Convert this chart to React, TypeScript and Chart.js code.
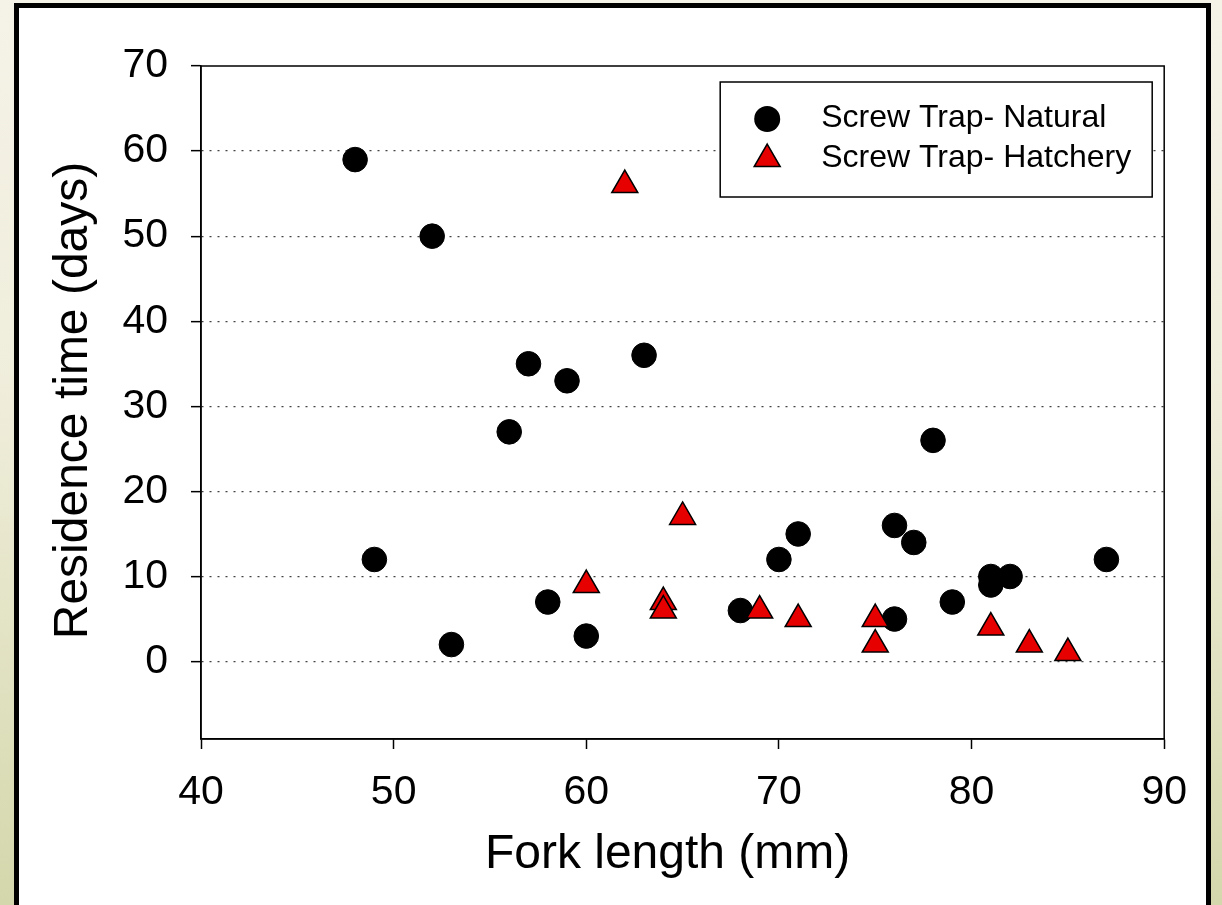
import React, { useEffect, useRef } from 'react';
import { Chart, registerables } from 'chart.js';

Chart.register(...registerables);

const FONT = "Arial, 'Liberation Sans', Helvetica, sans-serif";

// Screw Trap- Natural
const naturalLength = [48, 49, 52, 53, 56, 57, 58, 59, 60, 63, 68, 70, 71, 76, 76, 77, 78, 79, 81, 81, 82, 87];
const naturalResidence = [59, 12, 50, 2, 27, 35, 7, 33, 3, 36, 6, 12, 15, 16, 5, 14, 26, 7, 10, 9, 10, 12];

// Screw Trap- Hatchery
const hatcheryLength = [60, 62, 64, 64, 65, 69, 71, 75, 75, 81, 83, 85];
const hatcheryResidence = [9, 56, 7, 6, 17, 6, 5, 5, 2, 4, 2, 1];

const xTickValues = [40, 50, 60, 70, 80, 90];
const yTickValues = [0, 10, 20, 30, 40, 50, 60, 70];

const seriesLabels = ['Screw Trap- Natural', 'Screw Trap- Hatchery'];
const xTitle = 'Fork length (mm)';
const yTitle = 'Residence time (days)';

const RED = '#e60000';

function drawTriangle(ctx: CanvasRenderingContext2D, x: number, y: number, r: number) {
  const s = Math.sin(Math.PI / 3) * r;
  ctx.beginPath();
  ctx.moveTo(x, y - r);
  ctx.lineTo(x + s, y + r / 2);
  ctx.lineTo(x - s, y + r / 2);
  ctx.closePath();
  ctx.fillStyle = RED;
  ctx.fill();
  ctx.lineWidth = 1.5;
  ctx.strokeStyle = '#000';
  ctx.stroke();
}

const decorPlugin = {
  id: 'decor',
  beforeDatasetsDraw(chart: any) {
    const { ctx, chartArea: a } = chart;
    ctx.save();
    ctx.strokeStyle = '#000';
    ctx.lineWidth = 1.5;
    ctx.strokeRect(a.left, a.top, a.right - a.left, a.bottom - a.top);
    ctx.restore();
  },
  afterDraw(chart: any) {
    const { ctx, chartArea: a } = chart;
    ctx.save();
    ctx.fillStyle = '#000';
    ctx.font = `48px ${FONT}`;
    ctx.textAlign = 'center';
    ctx.textBaseline = 'alphabetic';
    ctx.fillText(xTitle, (a.left + a.right) / 2 - 15, a.bottom + 129);
    ctx.save();
    ctx.translate(a.left - 114, (a.top + a.bottom) / 2 - 2);
    ctx.rotate(-Math.PI / 2);
    ctx.fillText(yTitle, 0, 0);
    ctx.restore();

    // legend
    const bw = 432;
    const bh = 115;
    const bx = a.right - 12 - bw;
    const by = a.top + 16;
    ctx.fillStyle = '#fff';
    ctx.fillRect(bx, by, bw, bh);
    ctx.lineWidth = 1.5;
    ctx.strokeStyle = '#000';
    ctx.strokeRect(bx, by, bw, bh);

    const mx = bx + 47;
    ctx.beginPath();
    ctx.arc(mx, by + 37, 13, 0, Math.PI * 2);
    ctx.fillStyle = '#000';
    ctx.fill();
    drawTriangle(ctx, mx, by + 77, 15);

    ctx.fillStyle = '#000';
    ctx.font = `32px ${FONT}`;
    ctx.textAlign = 'left';
    ctx.textBaseline = 'middle';
    ctx.fillText(seriesLabels[0], bx + 101, by + 36);
    ctx.fillText(seriesLabels[1], bx + 101, by + 76);
    ctx.restore();
  },
};

export default function App() {
  const ref = useRef<HTMLCanvasElement | null>(null);

  useEffect(() => {
    if (!ref.current) return;
    const chart = new Chart(ref.current, {
      type: 'scatter',
      data: {
        datasets: [
          {
            label: seriesLabels[0],
            data: naturalLength.map((x, i) => ({ x, y: naturalResidence[i] })),
            pointStyle: 'circle',
            pointRadius: 12.3,
            pointHoverRadius: 12.3,
            backgroundColor: '#000',
            borderColor: '#000',
            borderWidth: 1,
            order: 2,
          },
          {
            label: seriesLabels[1],
            data: hatcheryLength.map((x, i) => ({ x, y: hatcheryResidence[i] })),
            pointStyle: 'triangle',
            pointRadius: 15,
            pointHoverRadius: 15,
            backgroundColor: RED,
            borderColor: '#000',
            borderWidth: 1.5,
            order: 1,
          },
        ],
      },
      options: {
        responsive: false,
        animation: false,
        events: [],
        layout: { padding: { left: 0, top: 58, right: 41, bottom: 0 } },
        plugins: {
          legend: { display: false },
          tooltip: { enabled: false },
        },
        scales: {
          x: {
            type: 'linear',
            min: 40,
            max: 90,
            afterBuildTicks: (scale: any) => {
              scale.ticks = xTickValues.map((v) => ({ value: v }));
            },
            afterFit: (scale: any) => {
              scale.height = 166;
            },
            ticks: {
              color: '#000',
              font: { family: FONT, size: 41 },
              padding: 19,
              maxRotation: 0,
              autoSkip: false,
            },
            grid: {
              drawOnChartArea: false,
              drawTicks: true,
              tickLength: 10,
              tickColor: '#000',
              tickWidth: 1.5,
            },
            border: { display: true, color: '#000', width: 1.5 },
          },
          y: {
            type: 'linear',
            min: -9.1,
            max: 70,
            afterBuildTicks: (scale: any) => {
              scale.ticks = yTickValues.map((v) => ({ value: v }));
            },
            afterFit: (scale: any) => {
              scale.width = 182;
            },
            ticks: {
              color: '#000',
              font: { family: FONT, size: 41 },
              padding: 23,
              autoSkip: false,
            },
            grid: {
              drawOnChartArea: true,
              drawTicks: true,
              tickLength: 10,
              tickColor: '#000',
              tickWidth: 1.5,
              lineWidth: 1.3,
              color: (ctx: any) => (ctx.tick && ctx.tick.value === 70 ? 'rgba(0,0,0,0)' : '#444'),
            },
            border: { display: true, color: '#000', width: 1.5, dash: [2, 6] },
          },
        },
      },
      plugins: [decorPlugin],
    });
    return () => chart.destroy();
  }, []);

  return (
    <div
      style={{
        position: 'fixed',
        inset: 0,
        overflow: 'hidden',
        background: 'linear-gradient(180deg, #f5f2e8 0%, #efedda 45%, #d4d7ab 100%)',
      }}
    >
      <div
        style={{
          position: 'absolute',
          left: 14,
          top: 3,
          width: 1187,
          height: 1000,
          border: '5px solid #000',
          background: '#fff',
        }}
      >
        <canvas ref={ref} width={1187} height={897} style={{ display: 'block' }} />
      </div>
    </div>
  );
}
